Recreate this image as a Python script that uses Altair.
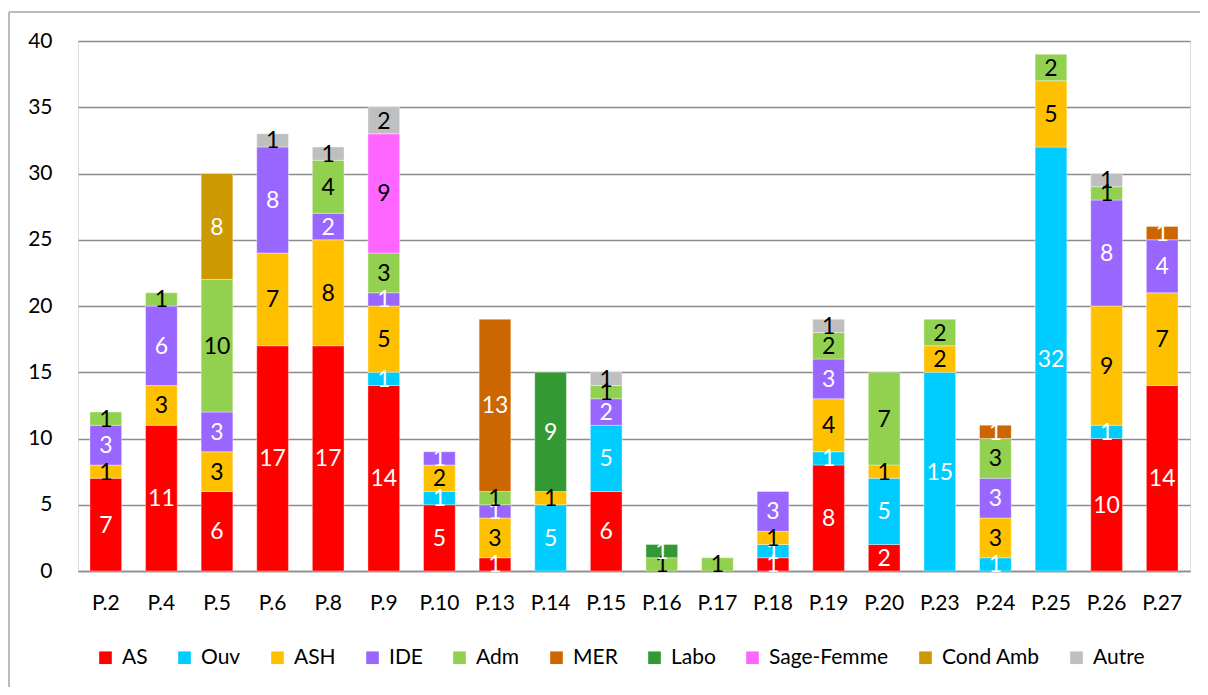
import altair as alt
import pandas as pd

categories = ["P.2", "P.4", "P.5", "P.6", "P.8", "P.9", "P.10", "P.13", "P.14", "P.15",
              "P.16", "P.17", "P.18", "P.19", "P.20", "P.23", "P.24", "P.25", "P.26", "P.27"]
series = ["AS", "Ouv", "ASH", "IDE", "Adm", "MER", "Labo", "Sage-Femme", "Cond Amb", "Autre"]
colors = ["#FF0000", "#00CCFF", "#FFC000", "#9966FF", "#92D050", "#CC6600", "#339933",
          "#FF66FF", "#CC9900", "#BFBFBF"]

AS         = [7, 11, 6, 17, 17, 14, 5, 1, 0, 6, 0, 0, 1, 8, 2, 0, 0, 0, 10, 14]
Ouv        = [0, 0, 0, 0, 0, 1, 1, 0, 5, 5, 0, 0, 1, 1, 5, 15, 1, 32, 1, 0]
ASH        = [1, 3, 3, 7, 8, 5, 2, 3, 1, 0, 0, 0, 1, 4, 1, 2, 3, 5, 9, 7]
IDE        = [3, 6, 3, 8, 2, 1, 1, 1, 0, 2, 0, 0, 3, 3, 0, 0, 3, 0, 8, 4]
Adm        = [1, 1, 10, 0, 4, 3, 0, 1, 0, 1, 1, 1, 0, 2, 7, 2, 3, 2, 1, 0]
MER        = [0, 0, 0, 0, 0, 0, 0, 13, 0, 0, 0, 0, 0, 0, 0, 0, 1, 0, 0, 1]
Labo       = [0, 0, 0, 0, 0, 0, 0, 0, 9, 0, 1, 0, 0, 0, 0, 0, 0, 0, 0, 0]
SageFemme  = [0, 0, 0, 0, 0, 9, 0, 0, 0, 0, 0, 0, 0, 0, 0, 0, 0, 0, 0, 0]
CondAmb    = [0, 0, 8, 0, 0, 0, 0, 0, 0, 0, 0, 0, 0, 0, 0, 0, 0, 0, 0, 0]
Autre      = [0, 0, 0, 1, 1, 2, 0, 0, 0, 1, 0, 0, 0, 1, 0, 0, 0, 0, 1, 0]

values = [AS, Ouv, ASH, IDE, Adm, MER, Labo, SageFemme, CondAmb, Autre]
dark_text = ["ASH", "Adm", "Sage-Femme", "Autre"]

rows = []
for ci, cat in enumerate(categories):
    cum = 0
    for si, s in enumerate(series):
        v = values[si][ci]
        if v > 0:
            rows.append({"cat": cat, "type": s, "order": si, "value": v,
                         "y0": cum, "y1": cum + v, "mid": cum + v / 2})
            cum += v
df = pd.DataFrame(rows)

FONT = "Lato"
GRID = "#8C8C8C"

xenc = alt.X("cat:N", sort=categories, title=None,
             scale=alt.Scale(paddingInner=0.43, paddingOuter=0.215),
             axis=alt.Axis(labelAngle=0, labelFontSize=21, labelColor="#000000",
                           labelPadding=21, ticks=False, domain=True,
                           domainColor=GRID, domainWidth=1.5, labelFont=FONT))
yscale = alt.Scale(domain=[0, 40], nice=False)

bars = alt.Chart(df).mark_bar(stroke="white", strokeWidth=0.6, strokeOpacity=0.6).encode(
    x=xenc,
    y=alt.Y("y0:Q", scale=yscale, title=None,
            axis=alt.Axis(values=list(range(0, 41, 5)), labelFontSize=21, labelColor="#000000",
                          labelPadding=26, ticks=False, domain=False, grid=True,
                          gridColor=GRID, gridWidth=1.5, labelFont=FONT)),
    y2="y1:Q",
    color=alt.Color("type:N", sort=series,
                    scale=alt.Scale(domain=series, range=colors),
                    legend=alt.Legend(title=None, orient="none", direction="horizontal",
                                      legendX=17, legendY=606, symbolType="square",
                                      symbolSize=160, symbolStrokeWidth=0,
                                      labelFontSize=21, labelFont=FONT, labelColor="#000000",
                                      labelOffset=6, columnPadding=26, columns=10)),
    order=alt.Order("order:Q"),
)

labels = alt.Chart(df).mark_text(fontSize=23, font=FONT, baseline="middle", align="center", dy=1).encode(
    x=alt.X("cat:N", sort=categories),
    y=alt.Y("mid:Q", scale=yscale),
    text=alt.Text("value:Q"),
    color=alt.condition(alt.FieldOneOfPredicate(field="type", oneOf=dark_text),
                        alt.value("#000000"), alt.value("#FFFFFF")),
)

border_src = alt.Data(values=[{"a": 1}])
left_border = alt.Chart(border_src).mark_rule(color="#A6A6A6", strokeWidth=1.5).encode(
    x=alt.value(-69), y=alt.value(-29), y2=alt.value(700))
top_border = alt.Chart(border_src).mark_rule(color="#A6A6A6", strokeWidth=1.5).encode(
    x=alt.value(-69), x2=alt.value(1200), y=alt.value(-29))

chart = alt.layer(bars, labels, left_border, top_border).properties(
    width=1112, height=530,
    autosize=alt.AutoSizeParams(type="none"),
    padding={"left": 70, "top": 33, "right": 10, "bottom": 116},
).configure_view(stroke=None).configure(background="white")

chart.save("out.html", embed_options={"renderer": "svg", "actions": False})
